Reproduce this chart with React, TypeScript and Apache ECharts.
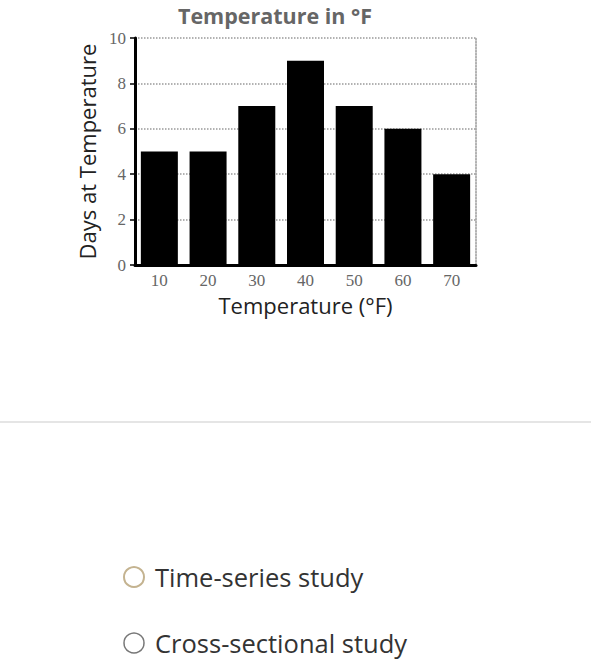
import React, { useEffect, useRef } from "react";
import * as echarts from "echarts";

const categories = ["10", "20", "30", "40", "50", "60", "70"];
const days = [5, 5, 7, 9, 7, 6, 4];
const chartTitle = "Temperature in °F";
const xName = "Temperature (°F)";
const yName = "Days at Temperature";
const options = ["Time-series study", "Cross-sectional study"];

export default function App() {
  const ref = useRef<HTMLDivElement>(null);
  useEffect(() => {
    if (!ref.current) return;
    const chart = echarts.init(ref.current, null, { renderer: "svg" });
    const sans = "'Open Sans', sans-serif";
    const serif = "'Liberation Serif', serif";
    chart.setOption({
      animation: false,
      backgroundColor: "#ffffff",
      grid: { left: 135, right: 115, top: 38, bottom: 398, containLabel: false },
      xAxis: {
        type: "category",
        data: categories,
        axisLine: { show: true, lineStyle: { color: "#000", width: 3 } },
        axisTick: { show: false },
        axisLabel: { fontFamily: serif, fontSize: 17, color: "#666", margin: 7, lineHeight: 17 },
        name: xName,
        nameLocation: "middle",
        nameGap: 29,
        nameTextStyle: { fontFamily: sans, fontSize: 22, color: "#222", lineHeight: 22 },
      },
      yAxis: [
        {
          type: "value",
          min: 0,
          max: 10,
          interval: 2,
          axisLine: { show: true, lineStyle: { color: "#000", width: 3 } },
          axisTick: { show: true, length: 5, lineStyle: { color: "#000", width: 1.5 } },
          axisLabel: { fontFamily: serif, fontSize: 17, color: "#666", margin: 9 },
          splitLine: { show: true, lineStyle: { color: "#999", type: "dotted", width: 1.5 } },
          name: yName,
          nameLocation: "middle",
          nameGap: 36,
          nameTextStyle: { fontFamily: sans, fontSize: 22, color: "#222" },
        },
        {
          type: "value",
          min: 0,
          max: 10,
          interval: 2,
          position: "right",
          axisLine: { show: true, lineStyle: { color: "#999", type: "dotted", width: 1.5 } },
          axisTick: { show: false },
          axisLabel: { show: false },
          splitLine: { show: false },
        },
      ],
      series: [
        {
          type: "bar",
          data: days,
          barWidth: 37,
          itemStyle: { color: "#000" },
        },
      ],
      graphic: [
        {
          type: "text",
          x: 275,
          y: 15,
          style: {
            text: chartTitle,
            fontFamily: sans,
            fontWeight: "bold",
            fontSize: 21.5,
            fill: "#666",
            textAlign: "center",
            textVerticalAlign: "middle",
          },
        },
        {
          type: "line",
          shape: { x1: 0, y1: 422, x2: 591, y2: 422 },
          style: { stroke: "#dddddd", lineWidth: 1.5 },
        },
        {
          type: "circle",
          shape: { cx: 134, cy: 577, r: 10 },
          style: { fill: "#fff", stroke: "#c4b390", lineWidth: 2 },
        },
        {
          type: "text",
          x: 155,
          y: 577,
          style: {
            text: options[0],
            fontFamily: sans,
            fontSize: 25.5,
            fill: "#333",
            textVerticalAlign: "middle",
          },
        },
        {
          type: "circle",
          shape: { cx: 134, cy: 643, r: 10 },
          style: { fill: "#fff", stroke: "#777", lineWidth: 1.5 },
        },
        {
          type: "text",
          x: 155,
          y: 643,
          style: {
            text: options[1],
            fontFamily: sans,
            fontSize: 25.5,
            fill: "#333",
            textVerticalAlign: "middle",
          },
        },
      ],
    });
    return () => chart.dispose();
  }, []);
  return (
    <div
      ref={ref}
      style={{ position: "absolute", left: 0, top: 0, width: 591, height: 663 }}
    />
  );
}
